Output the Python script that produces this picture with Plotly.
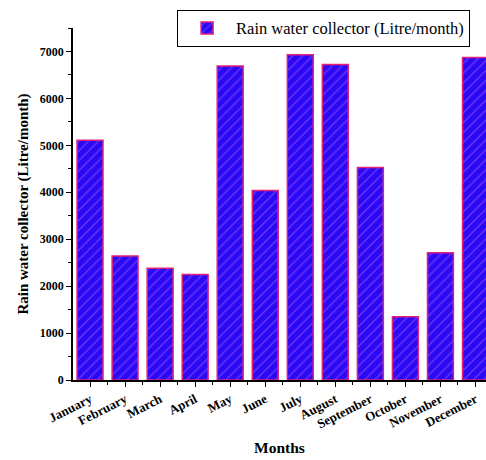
import plotly.graph_objects as go

months = ["January", "February", "March", "April", "May", "June", "July",
          "August", "September", "October", "November", "December"]
collected = [5110, 2640, 2380, 2250, 6690, 4040, 6930, 6720, 4530, 1350, 2710, 6870]
series_name = "Rain water collector (Litre/month)"
y_ticks = [0, 1000, 2000, 3000, 4000, 5000, 6000, 7000]

font_family = "Liberation Serif, Times New Roman, serif"

fig = go.Figure()
fig.add_trace(go.Bar(
    x=list(range(len(months))),
    y=collected,
    name=series_name,
    showlegend=True,
    marker=dict(
        color="#2a0af5",
        line=dict(color="#e0207a", width=1.5),
        pattern=dict(shape="/", fgcolor="#c060ff", size=7, solidity=0.18),
    ),
))

fig.update_layout(
    width=486, height=460,
    margin=dict(l=73, r=0, t=28, b=80, autoexpand=False),
    plot_bgcolor="white", paper_bgcolor="white",
    bargap=0.26,
    font=dict(family=font_family, color="black"),
    showlegend=True,
    legend=dict(
        x=0.252, y=1.052, xanchor="left", yanchor="top",
        bordercolor="black", borderwidth=1, bgcolor="white",
        font=dict(size=16.5, family=font_family),
        itemwidth=48,
    ),
    xaxis=dict(
        range=[-0.486, 11.3],
        automargin=False,
        tickmode="array",
        tickvals=list(range(len(months))),
        ticktext=["<b>%s</b>" % m for m in months],
        tickangle=-27,
        ticks="outside", ticklen=5, tickwidth=1, tickcolor="black",
        minor=dict(ticks="outside", ticklen=3, tickwidth=1, tickcolor="black",
                   tickvals=[i + 0.5 for i in range(-1, len(months))]),
        showline=True, linecolor="black", linewidth=1.5,
        showgrid=False, zeroline=False,
        tickfont=dict(size=13, family=font_family),
        title=dict(text="<b>Months</b>", font=dict(size=15.5, family=font_family), standoff=12),
    ),
    yaxis=dict(
        range=[0, 7500],
        automargin=False,
        tickmode="array",
        tickvals=y_ticks,
        ticktext=["<b>%d</b>" % v for v in y_ticks],
        ticks="outside", ticklen=5, tickwidth=1, tickcolor="black",
        minor=dict(ticks="outside", ticklen=3, tickwidth=1, tickcolor="black", dtick=500),
        showline=True, linecolor="black", linewidth=1.5,
        showgrid=False, zeroline=False,
        tickfont=dict(size=12, family=font_family),
        title=dict(text="<b>Rain water collector (Litre/month)</b>",
                   font=dict(size=15, family=font_family), standoff=8),
    ),
)

fig.write_html("out.html", config={"displayModeBar": False},
               post_script="document.body.style.margin='0';")
